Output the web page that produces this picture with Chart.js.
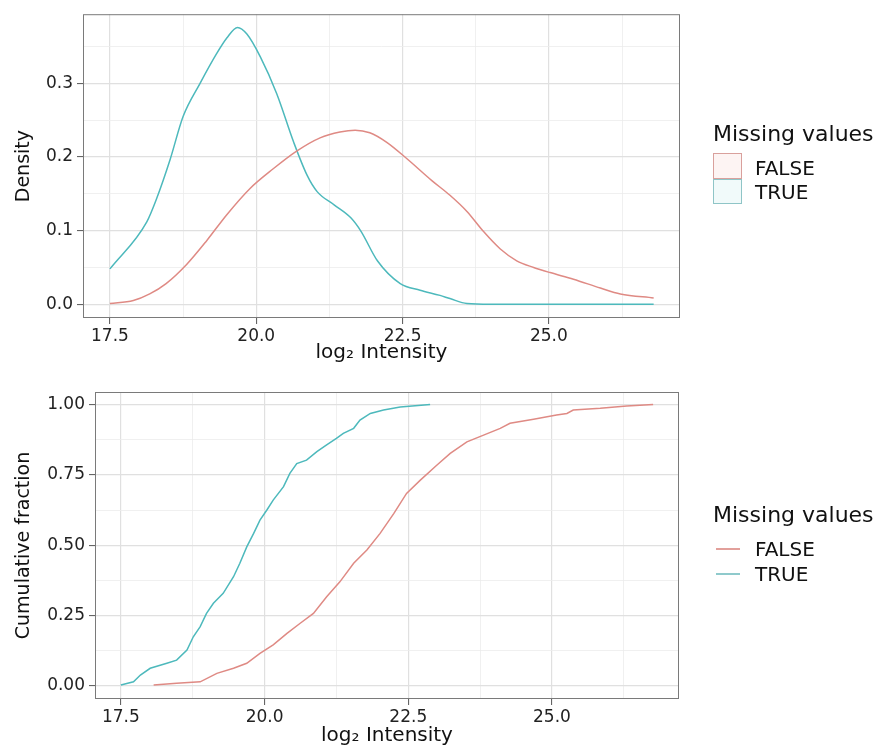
<!DOCTYPE html>
<html>
<head>
<meta charset="utf-8">
<script src="https://cdn.jsdelivr.net/npm/chart.js@4"></script>
<style>
  body { margin: 0; background: #fff; }
  #wrap { position: relative; width: 877px; height: 753px; font-family: "DejaVu Sans", sans-serif; color: #111; }
  canvas { position: absolute; left: 0; }
  .lg { position: absolute; white-space: nowrap; }
  .lt { font-size: 22px; line-height: 22px; }
  .ll { font-size: 20px; line-height: 20px; left: 755px; }
  .box { position: absolute; left: 713px; width: 29px; box-sizing: border-box; border: 1.5px solid; }
  .key { position: absolute; left: 716px; width: 24px; height: 1.6px; }
</style>
</head>
<body>
<div id="wrap">
  <canvas id="density" width="877" height="370" style="top:0"></canvas>
  <canvas id="ecdf" width="877" height="383" style="top:370px"></canvas>

  <div class="lg lt" style="left:713px; top:123px">Missing values</div>
  <div class="box" style="top:153px; height:26px; border-color:#d9a09c; background:#fdf4f3"></div>
  <div class="box" style="top:179px; height:25px; border-color:#8fc5c7; background:#f1fafa"></div>
  <div class="lg ll" style="top:158px">FALSE</div>
  <div class="lg ll" style="top:182px">TRUE</div>

  <div class="lg lt" style="left:713px; top:504px">Missing values</div>
  <div class="key" style="top:548px; background:#e2a09b"></div>
  <div class="key" style="top:573px; background:#8fcacc"></div>
  <div class="lg ll" style="top:539px">FALSE</div>
  <div class="lg ll" style="top:564px">TRUE</div>
</div>

<script>
const FONT = '"DejaVu Sans", sans-serif';

// axis breaks (ggplot style: labelled majors + unlabelled minors)
const xMajor = [17.5, 20.0, 22.5, 25.0];
const xMinor = [18.75, 21.25, 23.75, 26.25];
const densYMajor = [0.0, 0.1, 0.2, 0.3];
const densYMinor = [0.05, 0.15, 0.25, 0.35];
const ecdfYMajor = [0.0, 0.25, 0.5, 0.75, 1.0];
const ecdfYMinor = [0.125, 0.375, 0.625, 0.875];

const groups = ['FALSE', 'TRUE'];
const colors = ['#df8a84', '#4db9bc'];

// density of log2 intensity, proteins without missing values
const densFalseX = [17.5, 17.9, 18.18, 18.46, 18.81, 19.15, 19.49, 19.89, 20.29, 20.69, 21.09, 21.43, 21.69, 21.94, 22.23, 22.57, 23.0, 23.31, 23.6, 23.88, 24.17, 24.45, 24.74, 25.02, 25.42, 25.88, 26.22, 26.79];
const densFalseY = [0.001, 0.005, 0.014, 0.028, 0.054, 0.086, 0.121, 0.157, 0.184, 0.208, 0.226, 0.234, 0.2365, 0.233, 0.220, 0.198, 0.168, 0.148, 0.126, 0.099, 0.075, 0.059, 0.050, 0.043, 0.034, 0.022, 0.014, 0.0085];
// ... and with missing values
const densTrueX = [17.5, 18.13, 18.3, 18.53, 18.75, 19.04, 19.32, 19.5, 19.68, 19.84, 20.07, 20.35, 20.64, 20.87, 21.04, 21.33, 21.62, 21.79, 22.07, 22.46, 22.8, 23.14, 23.31, 23.6, 24.0, 25.0, 26.79];
const densTrueY = [0.048, 0.112, 0.144, 0.197, 0.255, 0.300, 0.340, 0.362, 0.376, 0.367, 0.336, 0.286, 0.220, 0.175, 0.153, 0.135, 0.117, 0.099, 0.059, 0.028, 0.019, 0.012, 0.0077, 0.001, 0.0, 0.0, 0.0];

// cumulative fraction
const ecdfFalseX = [18.07, 18.47, 18.88, 19.17, 19.46, 19.69, 19.92, 20.15, 20.39, 20.62, 20.85, 21.08, 21.31, 21.55, 21.78, 22.01, 22.25, 22.47, 22.71, 23.0, 23.23, 23.52, 23.81, 24.1, 24.27, 24.68, 25.08, 25.26, 25.37, 25.84, 26.3, 26.76];
const ecdfFalseY = [0.004, 0.01, 0.015, 0.045, 0.063, 0.081, 0.116, 0.146, 0.187, 0.223, 0.258, 0.317, 0.370, 0.436, 0.483, 0.542, 0.613, 0.684, 0.731, 0.785, 0.826, 0.867, 0.891, 0.915, 0.933, 0.947, 0.962, 0.968, 0.980, 0.986, 0.994, 1.0];
const ecdfTrueX = [17.5, 17.72, 17.84, 18.01, 18.3, 18.47, 18.65, 18.76, 18.88, 18.99, 19.11, 19.28, 19.46, 19.57, 19.69, 19.81, 19.92, 20.04, 20.15, 20.33, 20.44, 20.56, 20.73, 20.91, 21.08, 21.25, 21.37, 21.55, 21.66, 21.84, 22.07, 22.36, 22.88];
const ecdfTrueY = [0.004, 0.015, 0.039, 0.063, 0.081, 0.092, 0.128, 0.175, 0.211, 0.258, 0.294, 0.329, 0.388, 0.436, 0.494, 0.542, 0.589, 0.625, 0.660, 0.708, 0.755, 0.790, 0.802, 0.832, 0.856, 0.879, 0.897, 0.915, 0.944, 0.968, 0.980, 0.991, 1.0];

function toPoints(xs, ys) {
    return xs.map((x, i) => ({x: x, y: ys[i]}));
}

/** grey frame round the plot panel, drawn over the lines like theme_bw */
const panelBorder = {
    id: 'panelBorder',
    afterDatasetsDraw(chart) {
        const a = chart.chartArea;
        const ctx = chart.ctx;
        ctx.save();
        ctx.strokeStyle = '#7a7a7a';
        ctx.lineWidth = 1;
        ctx.strokeRect(a.left + 0.5, a.top + 0.5, a.right - a.left - 1, a.bottom - a.top - 1);
        ctx.restore();
    }
};

function isMajor(c, major) {
    return c.tick && major.includes(c.tick.value);
}

function makeAxis(major, minor, digits, min, max, title, vertical, size) {
    const all = major.concat(minor).sort((a, b) => a - b);
    return {
        type: 'linear',
        bounds: 'data',
        min: min,
        max: max,
        afterBuildTicks: s => { s.ticks = all.map(v => ({value: v})); },
        afterFit: s => { if (vertical) { s.width = size; } else { s.height = size; } },
        ticks: {
            autoSkip: false,
            maxRotation: 0,
            padding: vertical ? 4 : 2,
            color: '#222',
            font: {family: FONT, size: 17},
            callback: v => major.includes(v) ? v.toFixed(digits) : ''
        },
        grid: {
            color: c => isMajor(c, major) ? '#e0e0e0' : '#ececec',
            lineWidth: c => isMajor(c, major) ? 1.2 : 0.8,
            tickColor: c => isMajor(c, major) ? '#555' : 'rgba(0,0,0,0)',
            tickLength: 6,
            tickWidth: 1
        },
        border: {display: false},
        title: {
            display: true,
            text: title,
            color: '#111',
            font: {family: FONT, size: vertical ? 19 : 20},
            padding: vertical ? {top: 13, bottom: 0} : {top: 0, bottom: 5}
        }
    };
}

function lineSet(label, xs, ys, color, smooth) {
    return {
        label: label,
        data: toPoints(xs, ys),
        borderColor: color,
        backgroundColor: color,
        borderWidth: 1.5,
        pointRadius: 0,
        fill: false,
        tension: smooth ? 0.4 : 0,
        cubicInterpolationMode: smooth ? 'monotone' : 'default'
    };
}

function baseOptions(padTop, padRight) {
    return {
        responsive: false,
        animation: false,
        layout: {padding: {top: padTop, right: padRight, left: 0, bottom: 0}},
        plugins: {legend: {display: false}, tooltip: {enabled: false}}
    };
}

const densOpts = baseOptions(10, 197);
densOpts.scales = {
    x: makeAxis(xMajor, xMinor, 1, 17.04, 27.24, 'log\u2082 Intensity', false, 52),
    y: makeAxis(densYMajor, densYMinor, 1, -0.0187, 0.394, 'Density', true, 83)
};

new Chart(document.getElementById('density'), {
    type: 'line',
    data: {
        datasets: [
            lineSet(groups[0], densFalseX, densFalseY, colors[0], true),
            lineSet(groups[1], densTrueX, densTrueY, colors[1], true)
        ]
    },
    options: densOpts,
    plugins: [panelBorder]
});

const ecdfOpts = baseOptions(22, 198);
ecdfOpts.scales = {
    x: makeAxis(xMajor, xMinor, 1, 17.05, 27.21, 'log\u2082 Intensity', false, 54),
    y: makeAxis(ecdfYMajor, ecdfYMinor, 2, -0.046, 1.044, 'Cumulative fraction', true, 95)
};

new Chart(document.getElementById('ecdf'), {
    type: 'line',
    data: {
        datasets: [
            lineSet(groups[0], ecdfFalseX, ecdfFalseY, colors[0], false),
            lineSet(groups[1], ecdfTrueX, ecdfTrueY, colors[1], false)
        ]
    },
    options: ecdfOpts,
    plugins: [panelBorder]
});
</script>
</body>
</html>
